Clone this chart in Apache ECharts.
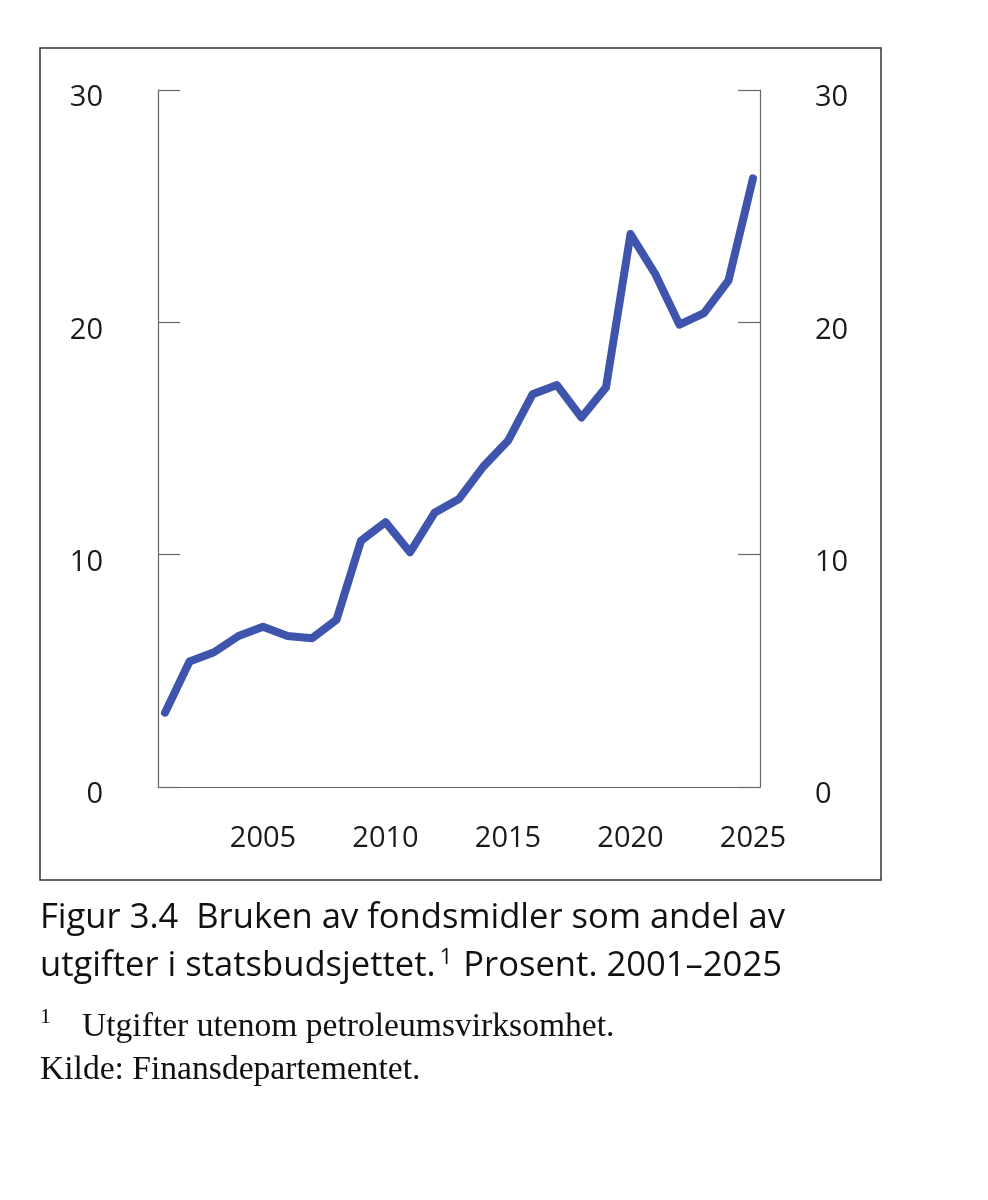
<!DOCTYPE html>
<html>
<head>
<meta charset="utf-8">
<script src="https://cdn.jsdelivr.net/npm/echarts@6/dist/echarts.min.js"></script>
<style>
  html, body { margin: 0; padding: 0; background: #fff; }
  #main { width: 988px; height: 1200px; }
</style>
</head>
<body>
<div id="main"></div>
<script>
// Bruken av fondsmidler som andel av utgifter, prosent
const years = [2001, 2002, 2003, 2004, 2005, 2006, 2007, 2008, 2009, 2010, 2011, 2012, 2013,
  2014, 2015, 2016, 2017, 2018, 2019, 2020, 2021, 2022, 2023, 2024, 2025];
const andel = [3.2, 5.4, 5.8, 6.5, 6.9, 6.5, 6.4, 7.2, 10.6, 11.4, 10.1, 11.8, 12.4,
  13.8, 14.9, 16.9, 17.3, 15.9, 17.2, 23.8, 22.1, 19.9, 20.4, 21.8, 26.2];
const xLabels = [2005, 2010, 2015, 2020, 2025];

const sans = "'Open Sans', 'Noto Sans', sans-serif";
const serif = "'Liberation Serif', 'DejaVu Serif', serif";

const chart = echarts.init(document.getElementById('main'));

const yAxisCommon = {
  type: 'value',
  min: 0,
  max: 30,
  interval: 10,
  splitLine: { show: false },
  axisLine: { show: true, lineStyle: { color: '#666', width: 1.2 } },
  axisTick: { show: true, inside: true, length: 22, lineStyle: { color: '#666', width: 1.2 } },
  axisLabel: {
    color: '#1a1a1a', fontSize: 29, fontFamily: sans, margin: 55,
    verticalAlign: 'top', lineHeight: 16
  }
};

const option = {
  animation: false,
  backgroundColor: '#fff',
  grid: { left: 158, right: 228, top: 90, bottom: 413 },
  xAxis: {
    type: 'value',
    min: 2000.714,
    max: 2025.286,
    splitLine: { show: false },
    axisLine: { show: true, lineStyle: { color: '#666', width: 1.2 } },
    axisTick: { show: false },
    axisLabel: {
      customValues: xLabels,
      color: '#1a1a1a', fontSize: 29, fontFamily: sans, margin: 37,
      formatter: v => String(v)
    }
  },
  yAxis: [
    Object.assign({}, yAxisCommon, { position: 'left' }),
    Object.assign({}, yAxisCommon, { position: 'right' })
  ],
  series: [{
    type: 'line',
    data: years.map((y, i) => [y, andel[i]]),
    symbol: 'none',
    lineStyle: { color: '#3f55ad', width: 8, cap: 'round', join: 'round' }
  }],
  graphic: [
    {
      type: 'rect',
      shape: { x: 40, y: 48, width: 841, height: 832 },
      style: { fill: 'none', stroke: '#333', lineWidth: 1.5 },
      silent: true
    },
    {
      type: 'text', left: 40, top: 901,
      style: {
        text: 'Figur 3.4  Bruken av fondsmidler som andel av',
        font: '34.6px ' + sans, fill: '#111'
      }
    },
    {
      type: 'text', left: 40, top: 947,
      style: {
        text: 'utgifter i statsbudsjettet.{sup|1} Prosent. 2001–2025',
        font: '34.6px ' + sans, fill: '#111',
        rich: { sup: { fontSize: 22, fontFamily: sans, verticalAlign: 'top', padding: [0, 2, 16, 4] } }
      }
    },
    {
      type: 'text', left: 40, top: 1006,
      style: { text: '1', font: '22px ' + serif, fill: '#111' }
    },
    {
      type: 'text', left: 82, top: 1010,
      style: { text: 'Utgifter utenom petroleumsvirksomhet.', font: '33.6px ' + serif, fill: '#111' }
    },
    {
      type: 'text', left: 40, top: 1053,
      style: { text: 'Kilde: Finansdepartementet.', font: '33.6px ' + serif, fill: '#111' }
    }
  ]
};

chart.setOption(option);
</script>
</body>
</html>
